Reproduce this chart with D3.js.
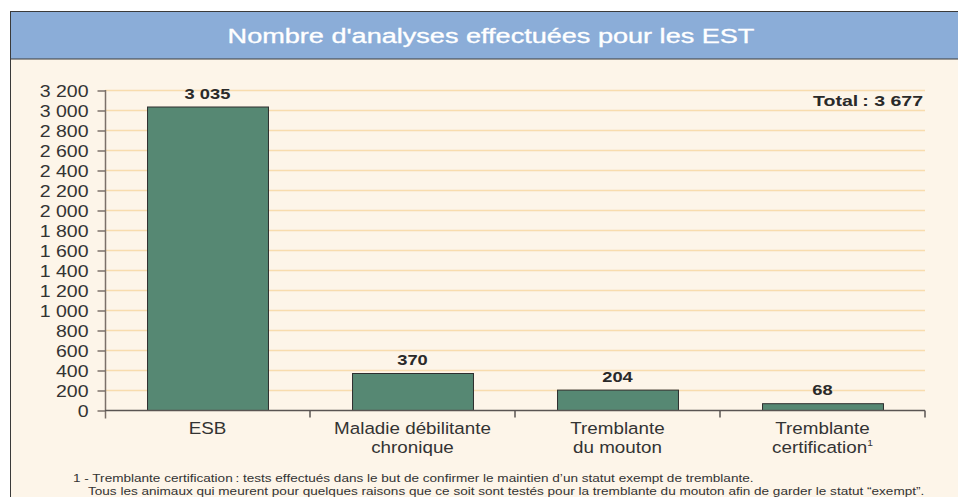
<!DOCTYPE html>
<html>
<head>
<meta charset="utf-8">
<script src="https://cdn.jsdelivr.net/npm/d3@7"></script>
<style>
  html, body { margin: 0; padding: 0; background: #ffffff; }
  svg { display: block; font-family: "Liberation Sans", Arial, sans-serif; }
</style>
</head>
<body>
<svg id="chart" width="958" height="497"></svg>
<script>
const categories = [
  ['ESB'],
  ['Maladie débilitante', 'chronique'],
  ['Tremblante', 'du mouton'],
  ['Tremblante', 'certification']
];
const values = [3035, 370, 204, 68];
const yTicks = d3.range(0, 3201, 200);
const title = "Nombre d'analyses effectuées pour les EST";
const totalLabel = 'Total\u2009: 3 677';
const footnotes = [
  '1 - Tremblante certification\u2009: tests effectués dans le but de confirmer le maintien d\u2019un statut exempt de tremblante.',
  'Tous les animaux qui meurent pour quelques raisons que ce soit sont testés pour la tremblante du mouton afin de garder le statut \u201cexempt\u201d.'
];

const fmtSpace = (v) => d3.format(',')(v).replace(/,/g, ' ');

const svg = d3.select('#chart');

// text in the source is set a little wider than Arial; stretch it horizontally
const placeText = (sel, px, py, sx) => sel.attr('transform', `translate(${px},${py}) scale(${sx},1)`);

// panel
svg.append('rect')
  .attr('x', 10.5).attr('y', 11.5)
  .attr('width', 960).attr('height', 500)
  .attr('fill', '#fdf5e9')
  .attr('stroke', '#3a3a3a').attr('stroke-width', 1);

svg.append('rect')
  .attr('x', 10.5).attr('y', 11.5)
  .attr('width', 960).attr('height', 47.5)
  .attr('fill', '#8badd8')
  .attr('stroke', '#3a3a3a').attr('stroke-width', 1);

svg.append('text')
  .call(placeText, 491, 43, 1.29)
  .attr('text-anchor', 'middle')
  .attr('fill', '#ffffff')
  .attr('stroke', '#ffffff').attr('stroke-width', 0.35)
  .attr('font-size', 21)
  .text(title);

const margin = { left: 105, right: 925, top: 90, bottom: 410 };

const x = d3.scaleBand()
  .domain(categories.map((c, i) => i))
  .range([margin.left, margin.right])
  .paddingInner(0.41)
  .paddingOuter(0.205);

const y = d3.scaleLinear()
  .domain([0, 3200])
  .range([margin.bottom, margin.top]);

// gridlines
svg.append('g')
  .selectAll('line')
  .data(yTicks.slice(1))
  .join('line')
  .attr('x1', margin.left).attr('x2', margin.right)
  .attr('y1', (d) => Math.round(y(d)) + 0.5)
  .attr('y2', (d) => Math.round(y(d)) + 0.5)
  .attr('stroke', '#f8dcae').attr('stroke-width', 1.5);

// bars
svg.append('g')
  .selectAll('rect')
  .data(values)
  .join('rect')
  .attr('x', (d, i) => x(i) + 0.5)
  .attr('y', (d) => y(d) + 0.5)
  .attr('width', x.bandwidth())
  .attr('height', (d) => y(0) - y(d))
  .attr('fill', '#568873')
  .attr('stroke', '#2e2e2e').attr('stroke-width', 1);

// value labels
svg.append('g')
  .selectAll('text')
  .data(values)
  .join('text')
  .each(function (d, i) {
    d3.select(this).call(placeText, x(i) + x.bandwidth() / 2, y(d) - 8, 1.22);
  })
  .attr('text-anchor', 'middle')
  .attr('font-size', 15)
  .attr('font-weight', 'bold')
  .attr('fill', '#2a2a2a')
  .text((d) => fmtSpace(d));

// y axis
const yAxis = svg.append('g')
  .attr('transform', `translate(${margin.left + 0.5},0.5)`)
  .call(d3.axisLeft(y).tickValues(yTicks).tickFormat(fmtSpace).tickSize(8).tickSizeOuter(0).tickPadding(0));
yAxis.select('.domain').attr('stroke', '#7b706a').attr('stroke-width', 1.5).attr('d', `M0,${margin.top - 0.5}V${margin.bottom + 8}`);
yAxis.selectAll('.tick line').attr('stroke', '#7b706a').attr('stroke-width', 1.5);
yAxis.selectAll('.tick text')
  .attr('x', null)
  .attr('transform', 'translate(-17,0) scale(1.22,1)')
  .attr('font-family', '"Liberation Sans", Arial, sans-serif')
  .attr('font-size', 16).attr('fill', '#333333').attr('dy', '0.36em');

// x axis
const xLine = svg.append('g').attr('transform', `translate(0,${margin.bottom + 0.5})`);
xLine.append('line')
  .attr('x1', margin.left).attr('x2', margin.right)
  .attr('stroke', '#5a5452').attr('stroke-width', 1.5);
const step = x.step();
xLine.selectAll('.sep')
  .data(categories.map((c, i) => i))
  .join('line')
  .attr('class', 'sep')
  .attr('x1', (i) => x(i) + x.bandwidth() / 2 + step / 2)
  .attr('x2', (i) => x(i) + x.bandwidth() / 2 + step / 2)
  .attr('y1', 0).attr('y2', 7)
  .attr('stroke', '#5a5452').attr('stroke-width', 1.5);

// category labels
const catLabels = svg.append('g')
  .selectAll('text')
  .data(categories)
  .join('text')
  .attr('text-anchor', 'middle')
  .attr('font-size', 16.5)
  .attr('fill', '#333333')
  .each(function (d, i) {
    d3.select(this).call(placeText, x(i) + x.bandwidth() / 2, margin.bottom + 24, 1.14);
  });

catLabels.selectAll('tspan.line')
  .data((d) => d)
  .join('tspan')
  .attr('class', 'line')
  .attr('x', 0)
  .attr('dy', (d, j) => (j === 0 ? 0 : 19))
  .text((d) => d);

catLabels.filter((d, i) => i === 3)
  .append('tspan')
  .attr('font-size', 9)
  .attr('dy', -7)
  .text('1');

// total
svg.append('text')
  .call(placeText, 923, 106, 1.26)
  .attr('text-anchor', 'end')
  .attr('font-size', 15.5)
  .attr('font-weight', 'bold')
  .attr('fill', '#2a2a2a')
  .text(totalLabel);

// footnote
svg.append('g')
  .selectAll('text')
  .data(footnotes)
  .join('text')
  .each(function (d, i) {
    d3.select(this).call(placeText, i === 0 ? 73 : 88, 482 + i * 12.5, 1.18);
  })
  .attr('font-size', 11.5)
  .attr('fill', '#333333')
  .text((d) => d);
</script>
</body>
</html>
